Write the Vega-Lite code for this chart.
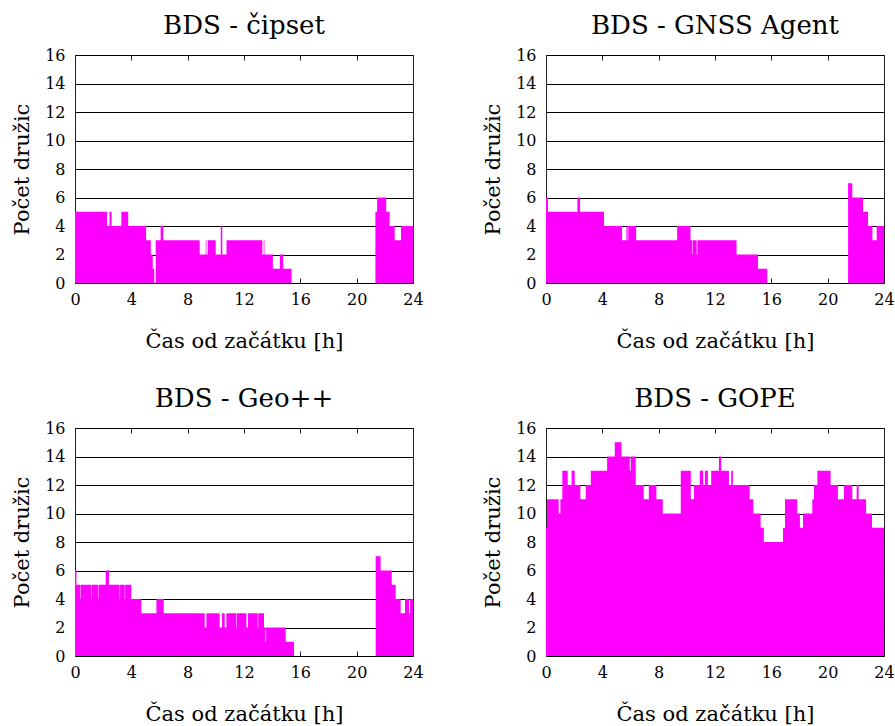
{
  "$schema": "https://vega.github.io/schema/vega-lite/v6.json",
  "background": "white",
  "padding": {"left": 11, "top": 12, "right": 5, "bottom": 5},
  "bounds": "flush",
  "columns": 2,
  "spacing": {"row": 145, "column": 133},
  "config": {
    "font": "DejaVu Serif",
    "view": {"stroke": "#222", "strokeWidth": 1},
    "title": {"font": "DejaVu Serif", "fontSize": 26, "fontWeight": "normal", "color": "black", "anchor": "middle", "offset": 8},
    "axis": {
      "labelFont": "DejaVu Serif", "labelFontSize": 16, "labelColor": "black", "labelFlush": false,
      "titleFont": "DejaVu Serif", "titleFontSize": 21, "titleFontWeight": "normal", "titleColor": "black",
      "domain": false, "gridColor": "black", "gridOpacity": 1, "gridWidth": 1,
      "tickColor": "#222", "tickWidth": 1
    }
  },
  "datasets": {
    "cipset": [
      {"h": 0, "n": 5}, {"h": 2.28, "n": 4}, {"h": 2.45, "n": 5}, {"h": 2.6, "n": 4}, {"h": 3.29, "n": 5},
      {"h": 3.78, "n": 4}, {"h": 5.05, "n": 3}, {"h": 5.38, "n": 2}, {"h": 5.52, "n": 1}, {"h": 5.63, "n": 0},
      {"h": 5.73, "n": 3}, {"h": 6.08, "n": 4}, {"h": 6.27, "n": 3}, {"h": 8.85, "n": 2}, {"h": 9.28, "n": 3},
      {"h": 9.33, "n": 2}, {"h": 9.42, "n": 3}, {"h": 9.99, "n": 2}, {"h": 10.35, "n": 4}, {"h": 10.46, "n": 2},
      {"h": 10.76, "n": 3}, {"h": 13.3, "n": 2}, {"h": 13.4, "n": 3}, {"h": 13.45, "n": 2}, {"h": 14.05, "n": 1},
      {"h": 14.55, "n": 2}, {"h": 14.78, "n": 1}, {"h": 15.38, "n": 0}, {"h": 21.33, "n": 5}, {"h": 21.45, "n": 6},
      {"h": 22.1, "n": 5}, {"h": 22.34, "n": 4}, {"h": 22.7, "n": 3}, {"h": 23.15, "n": 4}, {"h": 24, "n": 4}
    ],
    "agent": [
      {"h": 0, "n": 6}, {"h": 0.14, "n": 5}, {"h": 2.23, "n": 6}, {"h": 2.42, "n": 5}, {"h": 4.12, "n": 4},
      {"h": 5.4, "n": 3}, {"h": 5.71, "n": 4}, {"h": 5.8, "n": 3}, {"h": 5.84, "n": 4}, {"h": 6.4, "n": 3},
      {"h": 9.31, "n": 4}, {"h": 10.26, "n": 3}, {"h": 10.4, "n": 2}, {"h": 10.44, "n": 3}, {"h": 10.7, "n": 2},
      {"h": 10.75, "n": 3}, {"h": 13.53, "n": 2}, {"h": 15.05, "n": 1}, {"h": 15.71, "n": 0}, {"h": 21.45, "n": 7},
      {"h": 21.75, "n": 6}, {"h": 22.51, "n": 5}, {"h": 22.87, "n": 4}, {"h": 23.18, "n": 3}, {"h": 23.48, "n": 4},
      {"h": 24, "n": 4}
    ],
    "geo": [
      {"h": 0, "n": 6}, {"h": 0.1, "n": 5}, {"h": 0.36, "n": 4}, {"h": 0.39, "n": 5}, {"h": 1.15, "n": 4},
      {"h": 1.18, "n": 5}, {"h": 1.63, "n": 4}, {"h": 1.66, "n": 5}, {"h": 2.18, "n": 6}, {"h": 2.41, "n": 5},
      {"h": 3.17, "n": 4}, {"h": 3.2, "n": 5}, {"h": 3.53, "n": 4}, {"h": 3.56, "n": 5}, {"h": 4.0, "n": 4},
      {"h": 4.71, "n": 3}, {"h": 5.78, "n": 4}, {"h": 6.3, "n": 3}, {"h": 9.21, "n": 2}, {"h": 9.33, "n": 3},
      {"h": 10.27, "n": 2}, {"h": 10.44, "n": 3}, {"h": 10.63, "n": 2}, {"h": 10.75, "n": 3}, {"h": 11.43, "n": 2},
      {"h": 11.47, "n": 3}, {"h": 12.17, "n": 2}, {"h": 12.28, "n": 3}, {"h": 12.97, "n": 2}, {"h": 13.01, "n": 3},
      {"h": 13.42, "n": 2}, {"h": 13.52, "n": 1}, {"h": 13.57, "n": 2}, {"h": 14.96, "n": 1}, {"h": 15.55, "n": 0},
      {"h": 21.35, "n": 7}, {"h": 21.7, "n": 6}, {"h": 22.49, "n": 5}, {"h": 22.77, "n": 4}, {"h": 23.12, "n": 3},
      {"h": 23.43, "n": 4}, {"h": 23.72, "n": 3}, {"h": 23.79, "n": 4}, {"h": 24, "n": 4}
    ],
    "gope": [
      {"h": 0, "n": 9}, {"h": 0.07, "n": 11}, {"h": 0.9, "n": 10}, {"h": 1.02, "n": 11}, {"h": 1.16, "n": 13},
      {"h": 1.54, "n": 12}, {"h": 1.82, "n": 13}, {"h": 2.04, "n": 12}, {"h": 2.44, "n": 11}, {"h": 2.82, "n": 12},
      {"h": 3.18, "n": 13}, {"h": 4.34, "n": 14}, {"h": 4.88, "n": 15}, {"h": 5.36, "n": 14}, {"h": 5.95, "n": 13},
      {"h": 6.02, "n": 14}, {"h": 6.37, "n": 12}, {"h": 6.94, "n": 11}, {"h": 7.3, "n": 12}, {"h": 7.84, "n": 11},
      {"h": 8.29, "n": 10}, {"h": 9.57, "n": 13}, {"h": 10.28, "n": 11}, {"h": 10.5, "n": 12}, {"h": 10.92, "n": 13},
      {"h": 11.16, "n": 12}, {"h": 11.28, "n": 13}, {"h": 11.49, "n": 12}, {"h": 11.73, "n": 13}, {"h": 12.28, "n": 14},
      {"h": 12.44, "n": 13}, {"h": 12.99, "n": 12}, {"h": 13.15, "n": 13}, {"h": 13.27, "n": 12}, {"h": 14.46, "n": 11},
      {"h": 14.72, "n": 10}, {"h": 15.24, "n": 9}, {"h": 15.47, "n": 8}, {"h": 16.83, "n": 9}, {"h": 16.97, "n": 11},
      {"h": 17.84, "n": 10}, {"h": 18.03, "n": 9}, {"h": 18.25, "n": 10}, {"h": 18.91, "n": 11}, {"h": 19.03, "n": 12},
      {"h": 19.27, "n": 13}, {"h": 20.21, "n": 12}, {"h": 20.73, "n": 11}, {"h": 21.16, "n": 12}, {"h": 21.75, "n": 11},
      {"h": 22.06, "n": 12}, {"h": 22.2, "n": 11}, {"h": 22.73, "n": 10}, {"h": 23.15, "n": 9}, {"h": 24, "n": 9}
    ]
  },
  "concat": [
    {
      "title": "BDS - čipset",
      "width": 338, "height": 228,
      "data": {"name": "cipset"},
      "layer": [
        {
          "mark": {"type": "area", "interpolate": "step-after", "color": "#ff00ff"},
          "encoding": {
            "x": {"field": "h", "type": "quantitative", "scale": {"domain": [0, 24], "nice": false},
                  "axis": {"orient": "bottom", "values": [0, 4, 8, 12, 16, 20, 24], "grid": false, "tickSize": -5, "labelPadding": 13, "title": "Čas od začátku [h]", "titlePadding": 23}},
            "y": {"field": "n", "type": "quantitative", "scale": {"domain": [0, 16], "nice": false},
                  "axis": {"values": [0, 2, 4, 6, 8, 10, 12, 14, 16], "grid": true, "ticks": false, "labelPadding": 10, "title": "Počet družic", "titlePadding": 12}}
          }
        },
        {
          "mark": {"type": "rule", "strokeOpacity": 0},
          "encoding": {
            "x": {"field": "h", "type": "quantitative", "scale": {"domain": [0, 24], "nice": false},
                  "axis": {"orient": "top", "values": [4, 8, 12, 16, 20], "grid": false, "labels": false, "tickSize": -5, "title": null}}
          }
        }
      ],
      "resolve": {"axis": {"x": "independent"}}
    },
    {
      "title": "BDS - GNSS Agent",
      "width": 338, "height": 228,
      "data": {"name": "agent"},
      "layer": [
        {
          "mark": {"type": "area", "interpolate": "step-after", "color": "#ff00ff"},
          "encoding": {
            "x": {"field": "h", "type": "quantitative", "scale": {"domain": [0, 24], "nice": false},
                  "axis": {"orient": "bottom", "values": [0, 4, 8, 12, 16, 20, 24], "grid": false, "tickSize": -5, "labelPadding": 13, "title": "Čas od začátku [h]", "titlePadding": 23}},
            "y": {"field": "n", "type": "quantitative", "scale": {"domain": [0, 16], "nice": false},
                  "axis": {"values": [0, 2, 4, 6, 8, 10, 12, 14, 16], "grid": true, "ticks": false, "labelPadding": 10, "title": "Počet družic", "titlePadding": 12}}
          }
        },
        {
          "mark": {"type": "rule", "strokeOpacity": 0},
          "encoding": {
            "x": {"field": "h", "type": "quantitative", "scale": {"domain": [0, 24], "nice": false},
                  "axis": {"orient": "top", "values": [4, 8, 12, 16, 20], "grid": false, "labels": false, "tickSize": -5, "title": null}}
          }
        }
      ],
      "resolve": {"axis": {"x": "independent"}}
    },
    {
      "title": "BDS - Geo++",
      "width": 338, "height": 228,
      "data": {"name": "geo"},
      "layer": [
        {
          "mark": {"type": "area", "interpolate": "step-after", "color": "#ff00ff"},
          "encoding": {
            "x": {"field": "h", "type": "quantitative", "scale": {"domain": [0, 24], "nice": false},
                  "axis": {"orient": "bottom", "values": [0, 4, 8, 12, 16, 20, 24], "grid": false, "tickSize": -5, "labelPadding": 13, "title": "Čas od začátku [h]", "titlePadding": 23}},
            "y": {"field": "n", "type": "quantitative", "scale": {"domain": [0, 16], "nice": false},
                  "axis": {"values": [0, 2, 4, 6, 8, 10, 12, 14, 16], "grid": true, "ticks": false, "labelPadding": 10, "title": "Počet družic", "titlePadding": 12}}
          }
        },
        {
          "mark": {"type": "rule", "strokeOpacity": 0},
          "encoding": {
            "x": {"field": "h", "type": "quantitative", "scale": {"domain": [0, 24], "nice": false},
                  "axis": {"orient": "top", "values": [4, 8, 12, 16, 20], "grid": false, "labels": false, "tickSize": -5, "title": null}}
          }
        }
      ],
      "resolve": {"axis": {"x": "independent"}}
    },
    {
      "title": "BDS - GOPE",
      "width": 338, "height": 228,
      "data": {"name": "gope"},
      "layer": [
        {
          "mark": {"type": "area", "interpolate": "step-after", "color": "#ff00ff"},
          "encoding": {
            "x": {"field": "h", "type": "quantitative", "scale": {"domain": [0, 24], "nice": false},
                  "axis": {"orient": "bottom", "values": [0, 4, 8, 12, 16, 20, 24], "grid": false, "tickSize": -5, "labelPadding": 13, "title": "Čas od začátku [h]", "titlePadding": 23}},
            "y": {"field": "n", "type": "quantitative", "scale": {"domain": [0, 16], "nice": false},
                  "axis": {"values": [0, 2, 4, 6, 8, 10, 12, 14, 16], "grid": true, "ticks": false, "labelPadding": 10, "title": "Počet družic", "titlePadding": 12}}
          }
        },
        {
          "mark": {"type": "rule", "strokeOpacity": 0},
          "encoding": {
            "x": {"field": "h", "type": "quantitative", "scale": {"domain": [0, 24], "nice": false},
                  "axis": {"orient": "top", "values": [4, 8, 12, 16, 20], "grid": false, "labels": false, "tickSize": -5, "title": null}}
          }
        }
      ],
      "resolve": {"axis": {"x": "independent"}}
    }
  ]
}
